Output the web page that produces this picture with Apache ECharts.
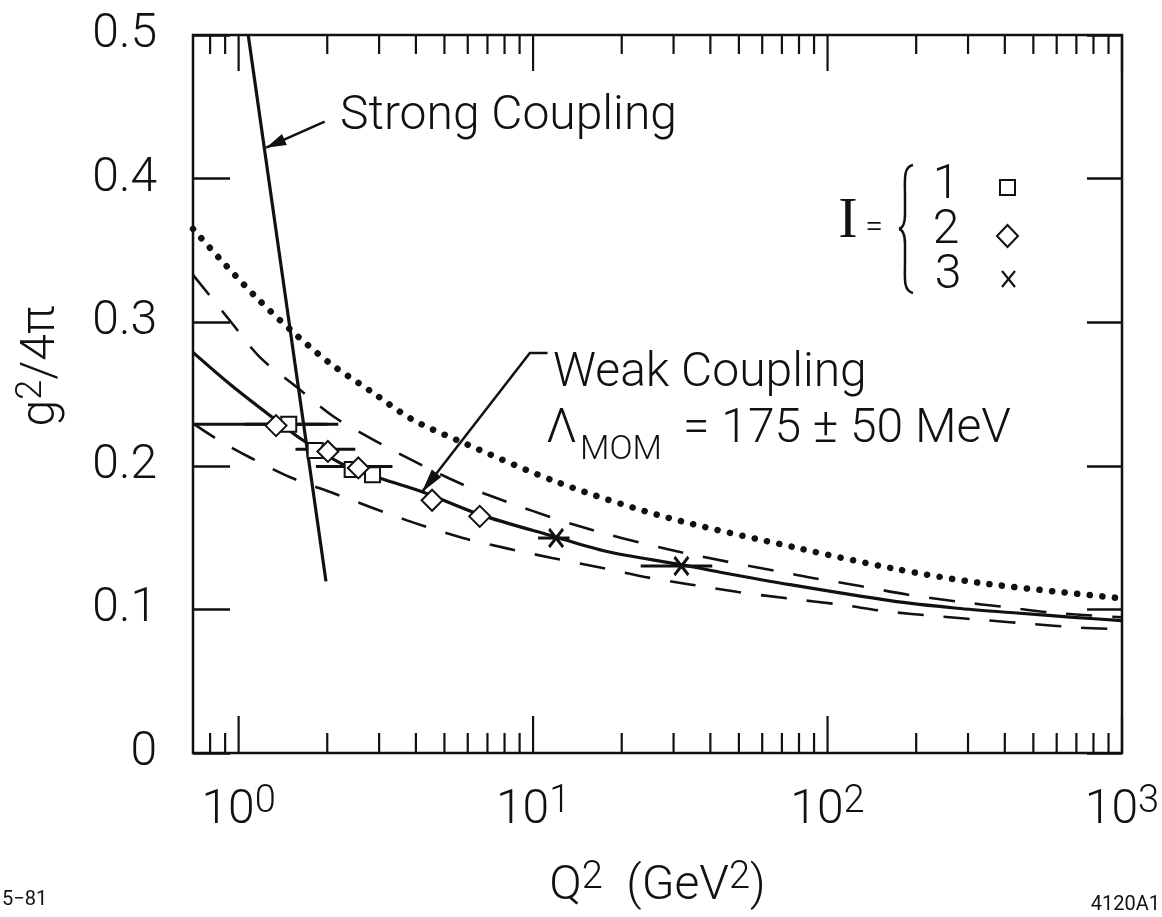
<!DOCTYPE html>
<html><head><meta charset="utf-8">
<script src="https://cdn.jsdelivr.net/npm/echarts@6/dist/echarts.min.js"></script>
<style>html,body{margin:0;padding:0;background:#fff}#c{width:1162px;height:917px}</style>
</head><body><div id="c"></div>
<script>
// ---- data ----
const xTickExponents = [0, 1, 2, 3];
const majorTicksX = [1, 10, 100, 1000];
const yTickLabels = ['0', '0.1', '0.2', '0.3', '0.4', '0.5'];
const minorTicksX = [0.8, 0.9, 2, 3, 4, 5, 6, 7, 8, 9, 20, 30, 40, 50, 60, 70, 80, 90, 200, 300, 400, 500, 600, 700, 800, 900];

const dottedX = [0.7, 0.883, 1.152, 1.513, 2.04, 2.83, 3.87, 5.50, 12.3, 28.5, 80.5, 169, 330, 1000];
const dottedY = [0.365, 0.342, 0.317, 0.294, 0.2715, 0.2515, 0.2325, 0.218, 0.188, 0.164, 0.1424, 0.1283, 0.1184, 0.1077];

const upperDashX = [0.7, 0.935, 1.18, 1.57, 2.10, 2.86, 3.82, 5.22, 6.97, 14.1, 29.2, 79.4, 129, 188, 275, 406, 585, 1000];
const upperDashY = [0.333, 0.301, 0.2757, 0.255, 0.2343, 0.2183, 0.2046, 0.191, 0.180, 0.1584, 0.1415, 0.1238, 0.1163, 0.1102, 0.1055, 0.1015, 0.0976, 0.0945];

const weakX = [0.7, 0.935, 1.278, 1.654, 2.33, 3.10, 4.24, 6.6, 11.9, 17.8, 31.8, 43.2, 74.6, 163, 275, 439, 684, 1000];
const weakY = [0.279, 0.2568, 0.235, 0.2178, 0.1996, 0.1906, 0.1816, 0.166, 0.1505, 0.1403, 0.1312, 0.1259, 0.1172, 0.1061, 0.1008, 0.0975, 0.0945, 0.0922];

const lowerDashX = [0.7, 0.865, 1.093, 1.49, 2.10, 3.73, 5.74, 8.15, 11.6, 16.9, 24, 34.1, 49.7, 73.5, 110, 159, 235, 347, 500, 719, 1000];
const lowerDashY = [0.2295, 0.2172, 0.2058, 0.1922, 0.1809, 0.162, 0.1499, 0.1425, 0.1358, 0.1292, 0.1226, 0.1174, 0.1121, 0.1076, 0.1034, 0.0986, 0.0953, 0.0924, 0.0898, 0.0873, 0.0862];

const strongX = [1.078, 1.98];
const strongY = [0.5, 0.1195];

const squareX = [1.48, 1.82, 2.43, 2.85];          // I = 1
const squareY = [0.229, 0.2106, 0.1975, 0.1937];
const diamondX = [1.34, 2.01, 2.55, 4.54, 6.59];   // I = 2
const diamondY = [0.228, 0.210, 0.1985, 0.176, 0.1648];
const crossX = [11.97, 31.9];                      // I = 3
const crossY = [0.1497, 0.1302];

// horizontal error bars: low, high, y
const barLow = [0.7, 1.05, 1.56, 1.83, 10.4, 23.2];
const barHigh = [2.0, 2.18, 2.49, 3.33, 13.3, 40.6];
const barY = [0.229, 0.229, 0.2115, 0.1995, 0.1497, 0.1302];

// ---- build ----
const zip = (xs, ys) => xs.map((x, i) => [x, ys[i]]);
const FONT = 'Roboto';
const FW = 300;
const INK = '#111';

const chart = echarts.init(document.getElementById('c'), null, {renderer: 'canvas'});

const xLabelFmt = v => {
  const e = Math.log10(v);
  const r = Math.round(e);
  if (Math.abs(e - r) > 1e-6 || xTickExponents.indexOf(r) < 0) return '';
  return '{b|10}{s|' + r + '}';
};

const tickData = majorTicksX.map(v => [v, 0, 1]).concat(minorTicksX.map(v => [v, 0, 0]));
const rb = {fontFamily: FONT, fontWeight: FW, fontSize: 48, lineHeight: 56, color: INK};
const rs = {fontFamily: FONT, fontWeight: FW, fontSize: 38, lineHeight: 30, verticalAlign: 'top', color: INK};

const option = {
  backgroundColor: '#fff',
  animation: false,
  grid: {left: 193, top: 35, width: 929, height: 718, show: true, borderColor: INK, borderWidth: 2.5,
         backgroundColor: 'transparent', containLabel: false, outerBoundsMode: 'none'},
  xAxis: [{
    type: 'log', logBase: 10, min: 0.7, max: 1000, position: 'bottom',
    axisLine: {show: false}, axisTick: {show: false},
    splitLine: {show: false}, minorTick: {show: false},
    axisLabel: {show: true, margin: 30, formatter: xLabelFmt, color: INK, rich: {b: rb, s: rs}},
    name: '{n|Q}{s|2}{n|  (GeV}{s|2}{n|)}', nameLocation: 'middle', nameGap: 106,
    nameTextStyle: {rich: {n: rb, s: rs}}
  }, {
    type: 'log', logBase: 10, min: 0.7, max: 1000, position: 'top',
    axisLine: {show: false}, axisTick: {show: false},
    splitLine: {show: false}, axisLabel: {show: false}
  }],
  yAxis: [{
    type: 'value', min: 0, max: 0.5, interval: 0.1, position: 'left',
    axisLine: {show: false},
    axisTick: {show: true, inside: true, length: 37, lineStyle: {color: INK, width: 2.5}},
    splitLine: {show: false},
    axisLabel: {margin: 36, color: INK, fontFamily: FONT, fontWeight: FW, fontSize: 48,
      formatter: v => yTickLabels[Math.round(v * 10)]}
  }, {
    type: 'value', min: 0, max: 0.5, interval: 0.1, position: 'right',
    axisLine: {show: false},
    axisTick: {show: true, inside: true, length: 35, lineStyle: {color: INK, width: 2.5}},
    splitLine: {show: false}, axisLabel: {show: false}
  }],
  series: [
    {name: 'dotted', type: 'line', data: zip(dottedX, dottedY), showSymbol: false, smooth: 0.3, z: 2,
     lineStyle: {color: INK, width: 6.5, type: [0.1, 12.5], cap: 'round'}},
    {name: 'upper', type: 'line', data: zip(upperDashX, upperDashY), showSymbol: false, smooth: 0.3, z: 2,
     lineStyle: {color: INK, width: 2.6, type: [26, 20]}},
    {name: 'weak', type: 'line', data: zip(weakX, weakY), showSymbol: false, smooth: 0.3, z: 2,
     lineStyle: {color: INK, width: 3.2}},
    {name: 'lower', type: 'line', data: zip(lowerDashX, lowerDashY), showSymbol: false, smooth: 0.3, z: 2,
     lineStyle: {color: INK, width: 2.6, type: [26, 20]}},
    {name: 'strong', type: 'line', data: zip(strongX, strongY), showSymbol: false, z: 2,
     lineStyle: {color: INK, width: 3.2}},
    {name: 'errbars', type: 'custom', z: 3, clip: true,
     data: barLow.map((l, i) => [l, barHigh[i], barY[i]]),
     encode: {x: [0, 1], y: 2},
     renderItem: (params, api) => {
       const y = api.value(2);
       const p1 = api.coord([api.value(0), y]);
       const p2 = api.coord([api.value(1), y]);
       return {type: 'line', shape: {x1: p1[0], y1: p1[1], x2: p2[0], y2: p2[1]},
               style: {stroke: INK, lineWidth: 3}};
     }},
    {name: '1', type: 'scatter', data: zip(squareX, squareY), symbol: 'rect', symbolSize: 15, z: 4,
     itemStyle: {color: '#fff', borderColor: INK, borderWidth: 2, opacity: 1}},
    {name: '2', type: 'scatter', data: zip(diamondX, diamondY), symbol: 'diamond', symbolSize: 21, z: 4,
     itemStyle: {color: '#fff', borderColor: INK, borderWidth: 2, opacity: 1}},
    {name: '3', type: 'scatter', data: zip(crossX, crossY), symbol: 'path://M0,0L10,14M10,0L0,14', symbolSize: [14, 18], z: 4,
     itemStyle: {color: 'none', borderColor: INK, borderWidth: 3, opacity: 1}},
    {name: 'xTicks', type: 'custom', z: 5, clip: false,
     data: tickData,
     encode: {x: 0, y: 1},
     renderItem: (params, api) => {
       const v = api.value(0);
       const major = api.value(2) === 1;
       const b = api.coord([v, 0]);
       const t = api.coord([v, 0.5]);
       const lb = major ? 37 : 20, lt = major ? 36 : 19;
       return {type: 'group', children: [
         {type: 'line', shape: {x1: b[0], y1: b[1], x2: b[0], y2: b[1] - lb}, style: {stroke: INK, lineWidth: 2.2}},
         {type: 'line', shape: {x1: t[0], y1: t[1], x2: t[0], y2: t[1] + lt}, style: {stroke: INK, lineWidth: 2.2}}
       ]};
     }}
  ]
};
chart.setOption(option);

// ---- annotations (anchored in data coordinates) ----
const px = p => chart.convertToPixel({xAxisIndex: 0, yAxisIndex: 0}, p);
function arrowHead(tip, from, len, half) {
  const dx = tip[0] - from[0], dy = tip[1] - from[1];
  const d = Math.hypot(dx, dy), ux = dx / d, uy = dy / d;
  const bx = tip[0] - ux * len, by = tip[1] - uy * len;
  return [[tip[0], tip[1]], [bx - uy * half, by + ux * half], [bx + uy * half, by - ux * half]];
}
const sTip = px([1.24, 0.4215]), sTail = px([1.96, 0.4397]);
const wTip = px([4.19, 0.1816]), wCorner = px([9.75, 0.2786]), wHook = px([11.2, 0.2786]);
const txt = (x, y, text, size, extra) => Object.assign({type: 'text', x: x, y: y, z: 10,
  style: Object.assign({text: text, fill: INK, font: FW + ' ' + size + 'px "' + FONT + '"', align: 'left', verticalAlign: 'middle'}, extra || {})});
const bez = (x1, y1, c1x, c1y, c2x, c2y, x2, y2) => ({type: 'bezierCurve', z: 10,
  shape: {x1: x1, y1: y1, cpx1: c1x, cpy1: c1y, cpx2: c2x, cpy2: c2y, x2: x2, y2: y2},
  style: {stroke: INK, lineWidth: 2.5, fill: null}});
const seg = (x1, y1, x2, y2, w) => ({type: 'line', z: 10, shape: {x1: x1, y1: y1, x2: x2, y2: y2},
  style: {stroke: INK, lineWidth: w || 2.5}});

chart.setOption({graphic: [
  {type: 'polyline', z: 10, shape: {points: [sTail, sTip]}, style: {stroke: INK, lineWidth: 2.5, fill: null}},
  {type: 'polygon', z: 10, shape: {points: arrowHead(sTip, sTail, 20, 6)}, style: {fill: INK}},
  txt(340, 117, 'Strong Coupling', 48),
  {type: 'polyline', z: 10, shape: {points: [wHook, wCorner, wTip]}, style: {stroke: INK, lineWidth: 2.5, fill: null}},
  {type: 'polygon', z: 10, shape: {points: arrowHead(wTip, wCorner, 24, 6)}, style: {fill: INK}},
  txt(553, 374, 'Weak Coupling', 48),
  txt(546, 430, 'Λ', 48),
  txt(580, 450, 'MOM', 34),
  txt(683, 430, '= 175 ± 50 MeV', 48),
  // legend  I = { 1 □ 2 ◇ 3 ×
  txt(848, 222, 'I', 58, {font: '58px "Liberation Serif"', align: 'center'}),
  txt(874, 228, '=', 32, {align: 'center'}),
  bez(913, 165, 903, 167, 905, 180, 905, 196),
  seg(905, 196, 905, 214),
  bez(905, 214, 905, 224, 903, 228, 899, 229),
  bez(899, 229, 903, 230, 905, 234, 905, 244),
  seg(905, 244, 905, 262),
  bez(905, 262, 905, 278, 903, 291, 913, 293),
  txt(946, 186, '1', 48, {align: 'center'}),
  txt(946, 231, '2', 48, {align: 'center'}),
  txt(948, 276, '3', 48, {align: 'center'}),
  {type: 'rect', z: 10, shape: {x: 1000, y: 180, width: 15, height: 15}, style: {fill: '#fff', stroke: INK, lineWidth: 2}},
  {type: 'polygon', z: 10, shape: {points: [[1007.5, 225], [1018, 236], [1007.5, 247], [997, 236]]}, style: {fill: '#fff', stroke: INK, lineWidth: 2}},
  seg(1002, 271, 1015, 287, 2.2),
  seg(1015, 271, 1002, 287, 2.2),
  // y axis title
  {type: 'text', x: 42, y: 366, rotation: Math.PI / 2, z: 10,
   style: {text: '{a|g}{s|2}{a|/4π}', align: 'center', verticalAlign: 'middle', fill: INK,
     rich: {a: {fontFamily: FONT, fontWeight: FW, fontSize: 48, lineHeight: 56, fill: INK},
            s: {fontFamily: FONT, fontWeight: FW, fontSize: 36, lineHeight: 30, verticalAlign: 'top', fill: INK}}}},
  // plate codes
  txt(2, 900, '5−81', 20, {font: '20px "' + FONT + '"'}),
  txt(1160, 905, '4120A1', 20, {align: 'right', font: '20px "' + FONT + '"'})
]});
</script></body></html>
